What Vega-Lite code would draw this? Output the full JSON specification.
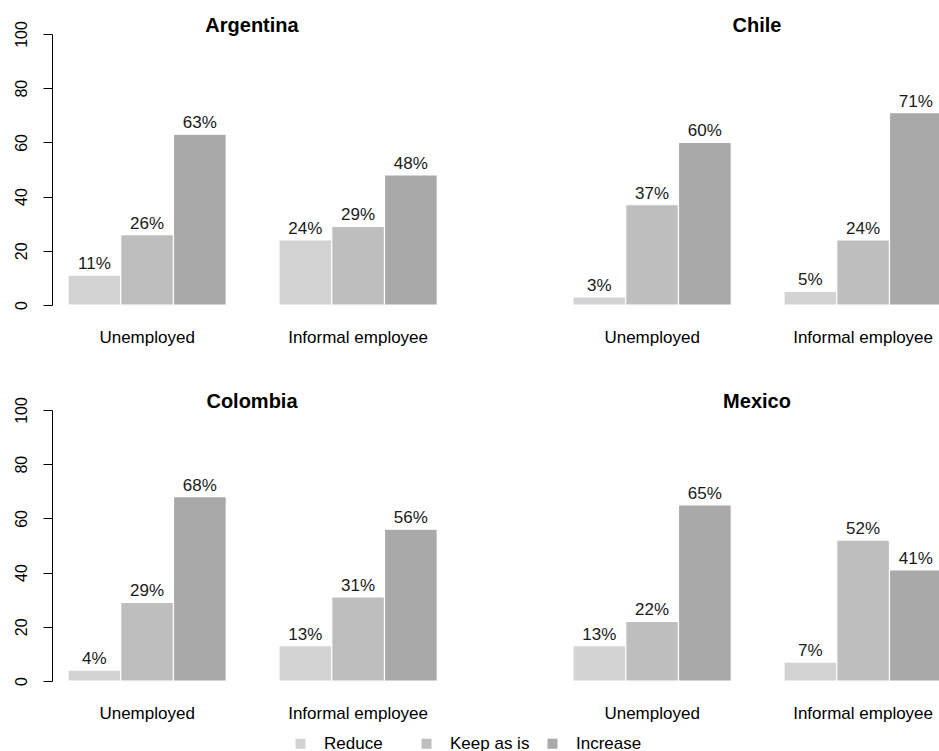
{
  "$schema": "https://vega.github.io/schema/vega-lite/v6.json",
  "padding": {"left": 13, "right": 0, "top": 16, "bottom": 0},
  "config": {
    "font": "Liberation Sans",
    "view": {"stroke": null},
    "text": {"font": "Liberation Sans"}
  },
  "data": {
    "values": [
      {"country": "Argentina", "status": "Unemployed", "response": "Reduce", "value": 11, "label": "11%"},
      {"country": "Argentina", "status": "Unemployed", "response": "Keep as is", "value": 26, "label": "26%"},
      {"country": "Argentina", "status": "Unemployed", "response": "Increase", "value": 63, "label": "63%"},
      {"country": "Argentina", "status": "Informal employee", "response": "Reduce", "value": 24, "label": "24%"},
      {"country": "Argentina", "status": "Informal employee", "response": "Keep as is", "value": 29, "label": "29%"},
      {"country": "Argentina", "status": "Informal employee", "response": "Increase", "value": 48, "label": "48%"},
      {"country": "Chile", "status": "Unemployed", "response": "Reduce", "value": 3, "label": "3%"},
      {"country": "Chile", "status": "Unemployed", "response": "Keep as is", "value": 37, "label": "37%"},
      {"country": "Chile", "status": "Unemployed", "response": "Increase", "value": 60, "label": "60%"},
      {"country": "Chile", "status": "Informal employee", "response": "Reduce", "value": 5, "label": "5%"},
      {"country": "Chile", "status": "Informal employee", "response": "Keep as is", "value": 24, "label": "24%"},
      {"country": "Chile", "status": "Informal employee", "response": "Increase", "value": 71, "label": "71%"},
      {"country": "Colombia", "status": "Unemployed", "response": "Reduce", "value": 4, "label": "4%"},
      {"country": "Colombia", "status": "Unemployed", "response": "Keep as is", "value": 29, "label": "29%"},
      {"country": "Colombia", "status": "Unemployed", "response": "Increase", "value": 68, "label": "68%"},
      {"country": "Colombia", "status": "Informal employee", "response": "Reduce", "value": 13, "label": "13%"},
      {"country": "Colombia", "status": "Informal employee", "response": "Keep as is", "value": 31, "label": "31%"},
      {"country": "Colombia", "status": "Informal employee", "response": "Increase", "value": 56, "label": "56%"},
      {"country": "Mexico", "status": "Unemployed", "response": "Reduce", "value": 13, "label": "13%"},
      {"country": "Mexico", "status": "Unemployed", "response": "Keep as is", "value": 22, "label": "22%"},
      {"country": "Mexico", "status": "Unemployed", "response": "Increase", "value": 65, "label": "65%"},
      {"country": "Mexico", "status": "Informal employee", "response": "Reduce", "value": 7, "label": "7%"},
      {"country": "Mexico", "status": "Informal employee", "response": "Keep as is", "value": 52, "label": "52%"},
      {"country": "Mexico", "status": "Informal employee", "response": "Increase", "value": 41, "label": "41%"}
    ]
  },
  "facet": {
    "field": "country",
    "type": "nominal",
    "sort": ["Argentina", "Chile", "Colombia", "Mexico"],
    "header": {
      "title": null,
      "labelFont": "Liberation Sans",
      "labelFontSize": 20,
      "labelFontWeight": "bold",
      "labelColor": "black",
      "labelPadding": -2
    }
  },
  "columns": 2,
  "spacing": {"row": 47, "column": 105},
  "resolve": {"axis": {"x": "independent"}},
  "spec": {
    "width": 400,
    "height": 271,
    "encoding": {
      "x": {
        "field": "status",
        "type": "nominal",
        "sort": ["Unemployed", "Informal employee"],
        "scale": {"paddingInner": 0.25, "paddingOuter": 0.0729, "align": 0.52},
        "axis": {
          "title": null,
          "labelAngle": 0,
          "domain": false,
          "ticks": false,
          "labelFontSize": 17,
          "labelPadding": 24,
          "labelColor": "black"
        }
      },
      "xOffset": {
        "field": "response",
        "type": "nominal",
        "sort": ["Reduce", "Keep as is", "Increase"],
        "scale": {"paddingInner": 0, "paddingOuter": 0}
      },
      "y": {
        "field": "value",
        "type": "quantitative",
        "scale": {"domain": [0, 100], "nice": false},
        "axis": {
          "title": null,
          "values": [0, 20, 40, 60, 80, 100],
          "labelAngle": -90,
          "labelFontSize": 16,
          "labelColor": "black",
          "labelPadding": 14,
          "tickSize": 9,
          "tickColor": "black",
          "domainColor": "black",
          "grid": false
        }
      }
    },
    "layer": [
      {
        "mark": {"type": "bar", "stroke": "white", "strokeWidth": 1.2},
        "encoding": {
          "color": {
            "field": "response",
            "type": "nominal",
            "sort": ["Reduce", "Keep as is", "Increase"],
            "scale": {"domain": ["Reduce", "Keep as is", "Increase"], "range": ["#d3d3d3", "#bebebe", "#a9a9a9"]},
            "legend": {
              "title": null,
              "orient": "none",
              "direction": "horizontal",
              "legendX": 240,
              "legendY": 701,
              "symbolType": "square",
              "symbolSize": 100,
              "symbolStrokeWidth": 0,
              "labelFontSize": 17,
              "labelColor": "black",
              "labelOffset": 15,
              "gridAlign": "all",
              "columnPadding": 14
            }
          }
        }
      },
      {
        "mark": {"type": "text", "baseline": "bottom", "dy": -2, "fontSize": 17, "color": "#1a1a1a"},
        "encoding": {"text": {"field": "label"}}
      }
    ]
  }
}
